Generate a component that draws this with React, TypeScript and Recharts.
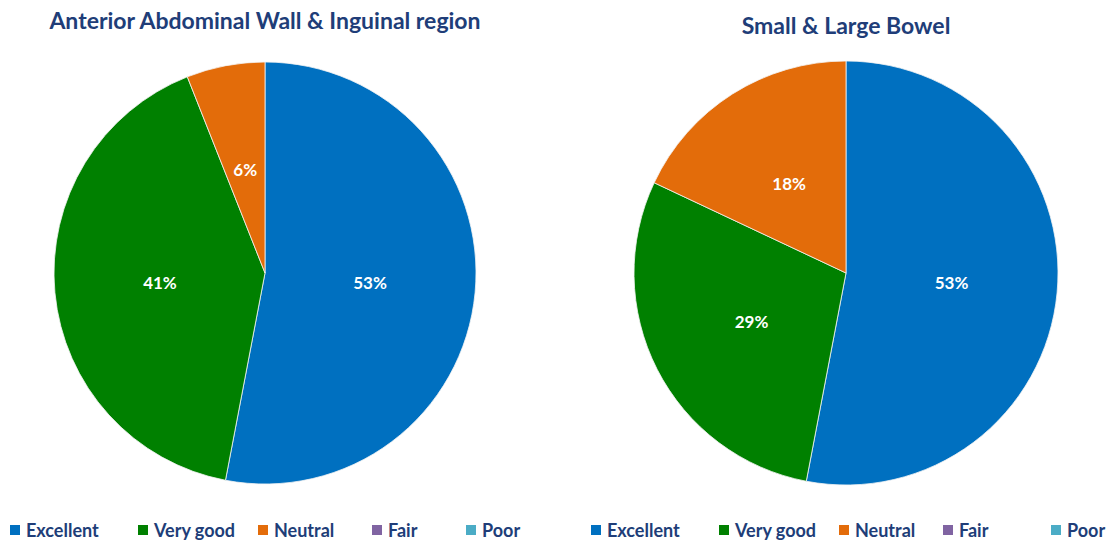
import React from "react"
import { PieChart, Pie, Cell } from "recharts"

const categories = ["Excellent", "Very good", "Neutral", "Fair", "Poor"]
const colors = ["#0070C0", "#008000", "#E36C0A", "#8064A2", "#4BACC6"]

const abdominalValues = [53, 41, 6, 0, 0]
const bowelValues = [53, 29, 18, 0, 0]

const titles = ["Anterior Abdominal Wall & Inguinal region", "Small & Large Bowel"]

const FONT = "Lato, 'Open Sans', sans-serif"
const NAVY = "#203D78"
const RADIAN = Math.PI / 180

function renderLabel(props: any) {
    const { cx, cy, midAngle, outerRadius, value } = props
    if (!value) return null
    const r = outerRadius * 0.5
    const x = cx + r * Math.cos(-midAngle * RADIAN)
    const y = cy + r * Math.sin(-midAngle * RADIAN)
    return (
        <text x={x} y={y} fill="#fff" textAnchor="middle" dominantBaseline="central"
            style={{ fontFamily: FONT, fontWeight: 700, fontSize: 17 }}>
            {`${value}%`}
        </text>
    )
}

function PiePanel({ title, values, width, cx, radius, titleY, legendX }: {
    title: string
    values: number[]
    width: number
    cx: number
    radius: number
    titleY: number
    legendX: number[]
}) {
    const data = categories.map((name, i) => ({ name, value: values[i] }))
    return (
        <div style={{ position: "relative", width, height: 543 }}>
            <div style={{
                position: "absolute", left: cx - 300, width: 600, top: titleY, textAlign: "center",
                fontFamily: FONT, fontWeight: 700, fontSize: 23, color: NAVY,
            }}>
                {title}
            </div>
            <PieChart width={width} height={543} margin={{ top: 0, right: 0, bottom: 0, left: 0 }}
                style={{ position: "absolute", left: 0, top: 0 }}>
                <Pie
                    data={data}
                    dataKey="value"
                    cx={cx}
                    cy={273}
                    outerRadius={radius}
                    startAngle={90}
                    endAngle={-270}
                    stroke="#f4f4f4"
                    strokeWidth={0.8}
                    label={renderLabel}
                    labelLine={false}
                    isAnimationActive={false}
                >
                    {data.map((d, i) => (
                        <Cell key={d.name} fill={colors[i]} />
                    ))}
                </Pie>
            </PieChart>
            {categories.map((name, i) => (
                <div key={name} style={{
                    position: "absolute", left: legendX[i], top: 519, display: "flex", alignItems: "center",
                    fontFamily: FONT, fontWeight: 700, fontSize: 18, color: NAVY, whiteSpace: "nowrap",
                }}>
                    <span style={{ display: "inline-block", width: 10, height: 10, background: colors[i], marginRight: 6 }} />
                    {name}
                </div>
            ))}
        </div>
    )
}

export default function App() {
    return (
        <div style={{ position: "absolute", left: 0, top: 0, width: 1115, height: 543, background: "#fff", display: "flex" }}>
            <PiePanel title={titles[0]} values={abdominalValues} width={557} cx={265} radius={211}
                titleY={6} legendX={[10, 138, 258, 372, 466]} />
            <PiePanel title={titles[1]} values={bowelValues} width={558} cx={289} radius={212}
                titleY={11} legendX={[34, 162, 282, 386, 494]} />
        </div>
    )
}
